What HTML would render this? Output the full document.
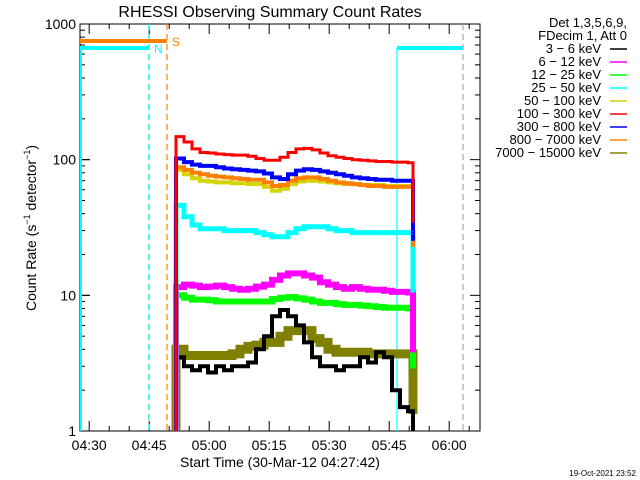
<!DOCTYPE html>
<html><head><meta charset="utf-8"><style>
html,body{margin:0;padding:0;background:#fff;width:640px;height:480px;overflow:hidden}
svg{display:block;font-family:"Liberation Sans",sans-serif}
</style></head><body>
<svg id="chart" width="640" height="480" xmlns="http://www.w3.org/2000/svg">
<rect width="640" height="480" fill="#fff"/>
<text x="270" y="17" text-anchor="middle" font-size="16">RHESSI Observing Summary Count Rates</text>
<text transform="translate(36,228) rotate(-90)" text-anchor="middle" font-size="14">Count Rate (s<tspan font-size="9" dy="-6">−1</tspan><tspan dy="6"> detector</tspan><tspan font-size="9" dy="-6">−1</tspan><tspan dy="6">)</tspan></text>
<text x="280" y="467" text-anchor="middle" font-size="14">Start Time (30-Mar-12 04:27:42)</text>
<text x="636" y="476" text-anchor="end" font-size="8">19-Oct-2021 23:52</text>
<g id="legend" font-size="13">
<text x="627" y="27" text-anchor="end">Det 1,3,5,6,9,</text>
<text x="627" y="40" text-anchor="end">FDecim 1, Att 0</text>
</g>
<g id="axes"></g>
<g id="marks"></g>
</svg>
<script>
const bandLabels = ["3 - 6 keV","6 - 12 keV","12 - 25 keV","25 - 50 keV","50 - 100 keV","100 - 300 keV","300 - 800 keV","800 - 7000 keV","7000 - 15000 keV"];
const bandColors = ["#000000","#ff00ff","#00ff00","#00ffff","#d4d400","#ff0000","#0000ff","#ff8000","#808000"];
const timeMinutes = [24,26,28,30,32,34,36,38,40,42,44,46,48,50,52,54,56,58,60,62,64,66,68,70,72,74,76,78,80,82];
const black = [3.5,3,2.8,3,2.7,3,2.8,3,3,3.2,4,5,7,7.8,7,6,4.5,3.5,3,3,2.8,3,3,3.5,3.2,3.8,3.5,2,1.5,1.4];
const magenta = [11.5,12,11.8,11.5,11.6,11.8,11.5,11.2,11,11.2,11.6,12,13,14,14.5,14.5,14,13.5,12.5,12,11.5,11.2,11.5,11.2,11,11,10.8,10.6,10.6,10.5];
const green = [10,9.6,9.3,9.3,9.2,9,9,9,9,9,9,9,9.4,9.6,9.7,9.5,9.3,9,8.8,8.8,8.6,8.5,8.5,8.4,8.3,8.2,8.1,8.1,8.1,8];
const cyan = [46,38,33,31,31,31,30,30,30,30,29,28,27,27,29,31,32,32,32,31,30,30,29,29,29,29,29,29,29,29];
const yellow = [84,78,73,70,69,68,68,67,67,66,66,63,59,61,66,69,70,70,69,68,67,66,66,65,65,65,64,64,64,64];
const red = [148,135,120,113,112,110,109,108,108,106,102,99,99,104,113,120,121,118,112,107,104,102,100,99,98,97,97,96,96,95];
const blue = [102,96,92,90,90,88,86,85,84,83,82,79,74,72,78,83,85,84,82,80,78,76,74,73,72,71,71,70,70,70];
const orange = [88,84,80,78,76,75,74,73,72,71,71,68,64,65,70,73,74,74,72,70,68,67,66,65,64,64,63,63,63,63];
const olive = [4,3.6,3.6,3.6,3.6,3.6,3.6,3.7,4,4.2,4.3,4.5,4.5,5,5.5,5.5,5.5,4.8,4.5,4,3.8,3.8,3.8,3.8,3.7,3.7,3.7,3.7,3.7,3.7];
const tickLabels = ["04:30","04:45","05:00","05:15","05:30","05:45","06:00"];
const tickMinutes = [2.3,17.3,32.3,47.3,62.3,77.3,92.3];
const yTickValues = [1,10,100,1000];

const NS="http://www.w3.org/2000/svg";
const L=80,R=480,T=24,B=431;
const X=m=>L+m*4;
const Y=v=>B-Math.log10(v)*135.67;
function mk(tag,attrs,parent){const e=document.createElementNS(NS,tag);for(const k in attrs)e.setAttribute(k,attrs[k]);parent.appendChild(e);return e;}
const axes=document.getElementById('axes'), marks=document.getElementById('marks'), legend=document.getElementById('legend');

const box=mk('rect',{x:L,y:T,width:R-L,height:B-T,fill:'none',stroke:'#000','stroke-width':1},axes);


for(let d=0;d<3;d++){for(let k=1;k<10;k++){const v=Math.pow(10,d)*k;const y=Y(v);const len=k===1?10:5;
 mk('line',{x1:L,x2:L+len,y1:y,y2:y,stroke:'#000'},axes);mk('line',{x1:R,x2:R-len,y1:y,y2:y,stroke:'#000'},axes);}}
yTickValues.forEach(v=>{const y=Y(v);mk('line',{x1:L,x2:L+10,y1:y,y2:y,stroke:'#000'},axes);
 const t=mk('text',{x:76,y:y+5,'text-anchor':'end','font-size':14},axes);t.textContent=String(v);
 
 });
for(let m=2.3;m<100;m+=5){const x=X(m);const major=Math.abs(((m-2.3)/15)-Math.round((m-2.3)/15))<0.01;const len=major?10:5;
 mk('line',{x1:x,x2:x,y1:B,y2:B-len,stroke:'#000'},axes);mk('line',{x1:x,x2:x,y1:T,y2:T+len,stroke:'#000'},axes);}
tickLabels.forEach((s,i)=>{const t=mk('text',{x:X(tickMinutes[i]),y:450,'text-anchor':'middle','font-size':14},axes);t.textContent=s;
 
 });

const ann=[
 ['line',{x1:L+1,x2:L+1,y1:48,y2:B,stroke:'#00ffff','stroke-width':2},'night-start-line'],
 ['line',{x1:149,x2:149,y1:T,y2:B,stroke:'#00ffff','stroke-dasharray':'6,4','stroke-width':1.5},'night-end-dashed'],
 ['line',{x1:167,x2:167,y1:T,y2:B,stroke:'#ff8000','stroke-dasharray':'6,4','stroke-width':1.2},'saa-end-dashed'],
 ['line',{x1:L,x2:167,y1:41,y2:41,stroke:'#ff8000','stroke-width':4},'saa-bar'],
 ['line',{x1:L,x2:149,y1:48,y2:48,stroke:'#00ffff','stroke-width':4},'night-bar'],
 ['line',{x1:397,x2:397,y1:48,y2:B,stroke:'#00ffff','stroke-width':1.2},'night2-start-line'],
 ['line',{x1:397,x2:463,y1:48,y2:48,stroke:'#00ffff','stroke-width':4},'night2-bar'],
 ['line',{x1:463,x2:463,y1:T,y2:B,stroke:'#999','stroke-dasharray':'6,4','stroke-width':1},'night2-end-dashed']];
ann.forEach(a=>{const e=mk(a[0],a[1],axes);});
const tS=mk('text',{x:172,y:46,'font-size':12,fill:'#ff8000'},axes);tS.textContent='S';


const tN=mk('text',{x:154,y:53,'font-size':12,fill:'#00ffff'},axes);tN.textContent='N';



const series=[black,magenta,green,cyan,yellow,red,blue,orange,olive];
const order=[8,0,2,1,3,4,7,6,5];
const widths=[4,6,6,5,4,3,4,4,9];
order.forEach(si=>{const vals=series[si];let d='M'+X(timeMinutes[0])+','+B;
 vals.forEach((v,i)=>{const x0=X(timeMinutes[i]);const x1=i<vals.length-1?X(timeMinutes[i+1]):413;d+=' L'+x0+','+Y(v).toFixed(1)+' L'+x1+','+Y(v).toFixed(1);});
 d+=' L413,'+Math.min(B,Y(vals[vals.length-1])+60).toFixed(1);
 const p=mk('path',{d:d,fill:'none',stroke:bandColors[si],'stroke-width':widths[si],'stroke-linejoin':'miter'},marks);
 
 });

bandLabels.forEach((s,i)=>{const y=53+i*13;const t=mk('text',{x:601,y:y,'text-anchor':'end','font-size':13},legend);t.textContent=s.replace(/-/g,'−');
 
 
 const l=mk('line',{x1:610,x2:627,y1:y-4,y2:y-4,stroke:bandColors[i],'stroke-width':1.5},legend);
 
 });
</script>
</body></html>
